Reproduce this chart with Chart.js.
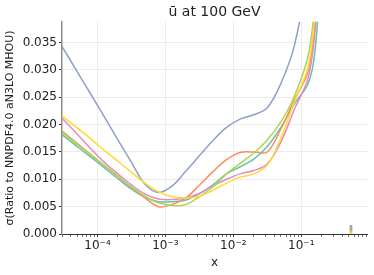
<!DOCTYPE html>
<html>
<head>
<meta charset="utf-8">
<script src="https://cdn.jsdelivr.net/npm/chart.js@4.4.0/dist/chart.umd.min.js"></script>
<style>
html, body { margin: 0; padding: 0; background: #fff; }
</style>
</head>
<body>
<canvas id="c" width="374" height="275"></canvas>
<script>
// x grid (shared by all curves)
var xs = [3.0e-5, 5.01e-5, 7.94e-5, 1.26e-4, 2.0e-4, 3.16e-4, 5.01e-4, 7.94e-4, 1.26e-3, 2.0e-3, 3.16e-3,
          5.01e-3, 7.94e-3, 1.26e-2, 2.0e-2, 3.16e-2, 5.01e-2, 7.94e-2, 0.126, 0.158, 0.2];

var green  = [0.0182, 0.0160, 0.0141, 0.0121, 0.0101, 0.0082, 0.0067, 0.0059, 0.0059, 0.0062, 0.0074,
              0.0090, 0.0110, 0.0123, 0.0137, 0.0160, 0.0195, 0.0238, 0.0275, 0.0330, 0.0500];
var orange = [0.0188, 0.0166, 0.0145, 0.0125, 0.0105, 0.0085, 0.0066, 0.0050, 0.0054, 0.0066, 0.0089,
              0.0114, 0.0136, 0.0149, 0.0150, 0.0150, 0.0192, 0.0246, 0.0297, 0.0388, 0.0600];
var blue   = [0.0343, 0.0297, 0.0256, 0.0214, 0.0172, 0.0131, 0.0091, 0.0076, 0.0088, 0.0115, 0.0143,
              0.0171, 0.0195, 0.0210, 0.0218, 0.0231, 0.0275, 0.0345, 0.0480, 0.0600, 0.0800];
var pink   = [0.0212, 0.0183, 0.0156, 0.0131, 0.0110, 0.0090, 0.0073, 0.0064, 0.0063, 0.0066, 0.0074,
              0.0088, 0.0100, 0.0110, 0.0116, 0.0128, 0.0168, 0.0228, 0.0285, 0.0365, 0.0550];
var lime   = [0.0186, 0.0164, 0.0145, 0.0125, 0.0106, 0.0086, 0.0069, 0.0057, 0.0052, 0.0054, 0.0068,
              0.0086, 0.0110, 0.0129, 0.0148, 0.0172, 0.0205, 0.0252, 0.0325, 0.0420, 0.0620];
var yellow = [0.0216, 0.0194, 0.0174, 0.0153, 0.0133, 0.0113, 0.0093, 0.0077, 0.0068, 0.0066, 0.0069,
              0.0080, 0.0093, 0.0104, 0.0110, 0.0126, 0.0175, 0.0242, 0.0305, 0.0400, 0.0600];

// little stacked marks near x=0.5
var markX = 0.54;
var markY = [0.0014, 0.00115, 0.0009, 0.00065, 0.0004, 0.00015];

var colors = ['#66c2a5', '#fc8d62', '#8da0cb', '#e78ac3', '#a6d854', '#ffd92f'];
var series = [green, orange, blue, pink, lime, yellow];

var sup = {'-': '\u207B', '0': '\u2070', '1': '\u00B9', '2': '\u00B2', '3': '\u00B3', '4': '\u2074',
           '5': '\u2075', '6': '\u2076', '7': '\u2077', '8': '\u2078', '9': '\u2079'};

function isDecade(v) {
    if (!v) return false;
    var l = Math.log10(v);
    return Math.abs(l - Math.round(l)) < 1e-6;
}

var datasets = [];
for (let i = 0; i < series.length; i++) {
    datasets.push({
        data: xs.map(function (x, j) { return {x: x, y: series[i][j]}; }),
        borderColor: colors[i],
        borderWidth: 1.5,
        pointRadius: 0,
        fill: false,
        tension: 0.35,
        order: series.length - i + 1
    });
}
datasets.push({
    type: 'scatter',
    data: markY.map(function (y) { return {x: markX, y: y}; }),
    backgroundColor: colors,
    borderWidth: 0,
    pointStyle: 'rect',
    pointRadius: 1.8,
    order: 0
});

var font = "'DejaVu Sans', sans-serif";

new Chart(document.getElementById('c'), {
    type: 'line',
    data: {datasets: datasets},
    options: {
        responsive: false,
        animation: false,
        devicePixelRatio: 1,
        layout: {padding: {left: 0, right: 7, top: 0, bottom: 0}},
        plugins: {
            legend: {display: false},
            tooltip: {enabled: false},
            title: {
                display: true,
                fullSize: false,
                text: '\u016B at 100 GeV',
                color: '#222',
                font: {family: font, size: 14, weight: 'normal'},
                padding: {top: 4, bottom: 1}
            }
        },
        scales: {
            x: {
                type: 'logarithmic',
                min: 3.0e-5,
                max: 0.93,
                afterBuildTicks: function (scale) {
                    var t = [];
                    for (let e = -5; e <= 0; e++) {
                        for (let m = 1; m <= 9; m++) {
                            var v = m * Math.pow(10, e);
                            if (v >= scale.min && v <= scale.max) t.push({value: v});
                        }
                    }
                    scale.ticks = t;
                },
                afterFit: function (scale) { scale.height = 41; },
                ticks: {
                    autoSkip: false,
                    maxRotation: 0,
                    padding: 2,
                    color: '#222',
                    font: {family: font, size: 12},
                    callback: function (v) {
                        if (!isDecade(v)) return '';
                        var e = String(Math.round(Math.log10(v)));
                        return '10' + e.split('').map(function (c) { return sup[c]; }).join('');
                    }
                },
                grid: {
                    color: function (ctx) { return ctx.tick && isDecade(ctx.tick.value) ? '#ececec' : 'rgba(0,0,0,0)'; },
                    tickColor: '#333',
                    tickLength: 3,
                    tickWidth: function (ctx) { return ctx.tick && isDecade(ctx.tick.value) ? 1 : 0.7; }
                },
                border: {color: '#333', width: 1},
                title: {
                    display: true,
                    text: 'x',
                    color: '#222',
                    font: {family: font, size: 12},
                    padding: {top: 1, bottom: 5}
                }
            },
            y: {
                min: 0,
                max: 0.0388,
                afterFit: function (scale) { scale.width = 62; },
                ticks: {
                    stepSize: 0.005,
                    includeBounds: false,
                    padding: 2,
                    color: '#222',
                    font: {family: font, size: 12},
                    callback: function (v) { return v.toFixed(3); }
                },
                grid: {color: '#ececec', tickColor: '#333', tickLength: 3},
                border: {color: '#8a8a8a', width: 1.5},
                title: {
                    display: true,
                    text: '\u03C3(Ratio to NNPDF4.0 aN3LO MHOU)',
                    color: '#222',
                    font: {family: font, size: 11},
                    padding: {top: 4, bottom: 0}
                }
            }
        }
    }
});
</script>
</body>
</html>
